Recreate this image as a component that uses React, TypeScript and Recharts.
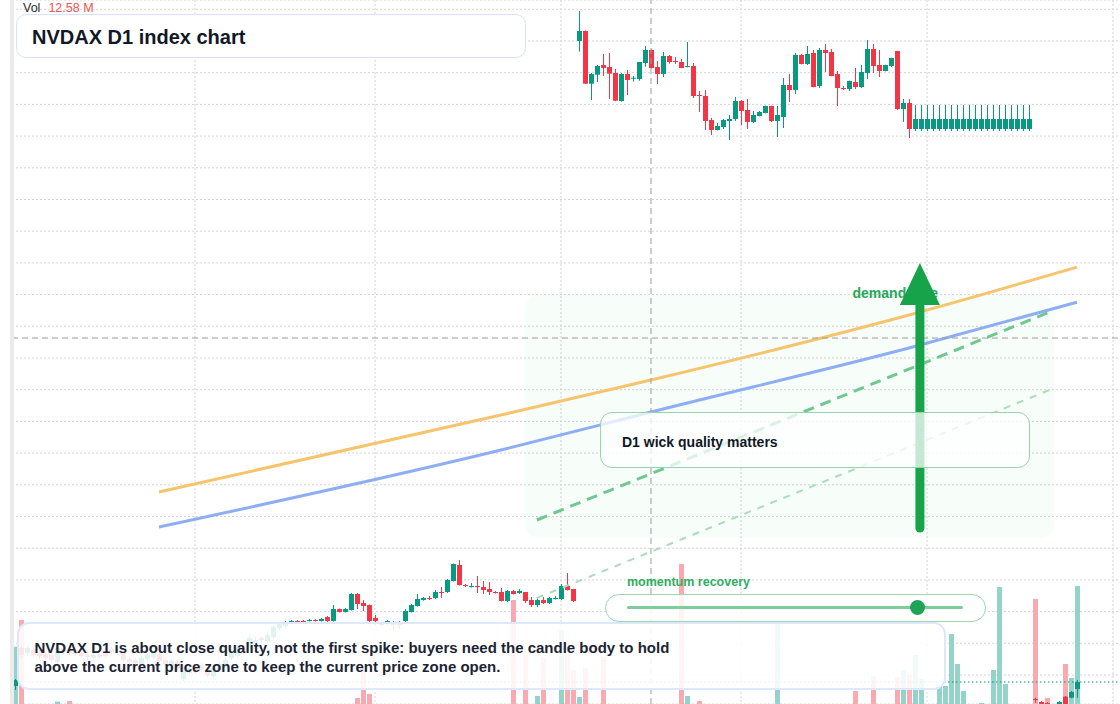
import {
  Bar,
  CartesianGrid,
  ComposedChart,
  Line,
  ReferenceArea,
  ReferenceDot,
  ReferenceLine,
  XAxis,
  YAxis,
} from "recharts";

const UP = "#089981";
const DOWN = "#f23645";
const UP_VOL = "#93d3c9";
const DOWN_VOL = "#f8aab0";
const FONT = '"Liberation Sans", Arial, Helvetica, sans-serif';

/** Daily slots from 2 Mar 2025; the last few stay empty as right padding. */
const dates = Array.from({ length: 185 }, (_, i) =>
  new Date(Date.UTC(2025, 2, 2 + i)).toISOString().slice(0, 10),
);

const monthTicks = ["2025-04-01", "2025-05-01", "2025-06-01", "2025-07-01", "2025-08-01", "2025-09-01"];
const priceTicks = [
  100, 110, 120, 130, 140, 150, 160, 170, 180, 190, 200,
  210, 220, 230, 240, 250, 260, 270, 280, 290, 300, 310,
];

const opens = [
  96.52, 108.51, 106.93, 107.88, 107.24, 106.61, 106.3, 104.09, 108.19, 107.88,
  107.88, 106.93, 106.3, 105.35, 106.3, 106.93, 108.19, 106.93, 106.93, 105.04,
  104.72, 103.46, 105.04, 105.67, 106.61, 104.72, 102.83, 104.09, 98.73, 100.62,
  102.51, 103.14, 101.56, 99.67, 101.56, 103.14, 105.35, 105.98, 108.51, 109.45,
  109.14, 111.66, 110.71, 111.98, 114.82, 115.45, 116.71, 117.02, 117.02, 117.02,
  117.34, 117.02, 118.29, 117.02, 120.81, 119.87, 120.5, 125.54, 122.7, 122.07,
  117.97, 115.76, 116.08, 116.08, 116.08, 117.02, 119.87, 121.76, 123.65, 124.28,
  124.28, 126.17, 126.17, 129.64, 134.69, 128.38, 127.75, 128.07, 127.75, 127.12,
  126.17, 126.17, 123.33, 126.49, 125.86, 126.17, 123.65, 122.07, 123.65, 122.7,
  123.97, 123.97, 128.07, 127.12, 300.0, 303.15, 286.53, 289.37, 292.43, 291.79,
  289.9, 281.07, 289.59, 288.1, 288.01, 293.06, 297.16, 291.79, 289.59, 295.26,
  293.69, 293.37, 291.79, 292.11, 282.96, 282.65, 275.07, 271.92, 272.87, 274.76,
  275.39, 281.07, 278.23, 274.44, 276.34, 277.28, 279.49, 274.76, 276.02, 286.12,
  284.54, 295.58, 292.74, 296.21, 285.8, 297.16, 296.53, 289.59, 285.17, 284.85,
  287.06, 285.48, 289.9, 297.47, 292.43, 290.53, 292.11, 296.84, 278.54, 280.44,
  272.24, 272.24, 272.24, 272.24, 272.24, 272.24, 272.24, 272.24, 272.24, 272.24,
  272.24, 272.24, 272.24, 272.24, 272.24, 272.24, 272.24, 272.24, 272.24, 272.24,
  92.42, 91.47, 91.16, 89.58, 90.52, 93.15, 92.83, 95.57,
];

const highs = [
  98.73, 109.45, 109.14, 108.51, 107.88, 107.24, 106.93, 109.14, 108.82, 108.51,
  108.51, 107.56, 107.24, 106.93, 106.61, 108.51, 109.14, 108.51, 107.56, 105.67,
  105.35, 105.98, 106.93, 107.56, 107.24, 105.35, 105.04, 104.72, 103.14, 102.83,
  103.14, 103.77, 102.19, 102.83, 104.09, 105.67, 107.88, 109.14, 109.45, 112.29,
  111.98, 112.29, 113.24, 115.76, 116.71, 117.02, 117.34, 117.34, 117.34, 117.66,
  117.66, 117.97, 118.6, 122.07, 120.97, 121.13, 125.86, 125.86, 123.65, 122.23,
  118.92, 116.71, 117.34, 117.02, 117.02, 120.81, 122.39, 125.54, 124.6, 124.91,
  126.8, 127.75, 130.28, 135.16, 136.27, 128.7, 129.01, 131.22, 129.64, 129.33,
  126.49, 127.44, 126.8, 126.8, 127.12, 126.2, 124.6, 124.6, 124.6, 124.6,
  124.91, 128.7, 132.17, 127.2, 309.46, 303.31, 289.9, 292.43, 295.9, 296.21,
  291.16, 289.9, 290.85, 288.95, 293.4, 298.42, 297.38, 293.69, 296.53, 295.58,
  294.95, 294.32, 299.68, 293.06, 284.22, 284.54, 275.71, 274.13, 275.39, 276.65,
  282.33, 281.38, 281.7, 277.91, 277.91, 279.6, 279.6, 279.49, 288.32, 289.59,
  296.21, 295.9, 298.42, 297.16, 297.79, 299.05, 297.47, 290.53, 285.8, 287.5,
  291.48, 292.43, 300.31, 299.05, 297.16, 292.5, 294.7, 296.9, 281.7, 281.7,
  279.81, 279.81, 279.81, 279.81, 279.81, 279.81, 279.81, 279.81, 279.81, 279.81,
  279.81, 279.81, 279.81, 279.81, 279.81, 279.81, 279.81, 279.81, 279.81, 279.81,
  92.83, 91.79, 91.47, 90.21, 91.79, 93.37, 94.94, 98.41,
];

const lows = [
  95.26, 105.35, 106.3, 105.67, 105.04, 104.72, 104.09, 103.46, 106.3, 106.3,
  105.98, 105.35, 104.72, 104.72, 105.04, 105.35, 106.3, 106.3, 104.09, 103.46,
  103.14, 102.83, 104.4, 105.04, 103.77, 102.51, 102.19, 101.56, 98.09, 99.99,
  100.3, 100.93, 99.36, 99.04, 100.93, 102.51, 104.72, 105.35, 106.3, 108.82,
  108.51, 110.4, 110.08, 111.35, 114.19, 114.82, 116.55, 116.39, 116.39, 116.87,
  116.87, 116.87, 116.08, 116.87, 119.71, 119.71, 120.34, 120.81, 120.18, 116.71,
  115.76, 115.45, 115.92, 114.19, 114.5, 116.71, 119.71, 121.6, 123.49, 123.65,
  123.97, 124.28, 125.86, 129.49, 128.22, 127.75, 127.59, 125.86, 125.54, 125.23,
  125.7, 123.18, 123.02, 125.39, 125.54, 122.7, 121.44, 121.44, 122.39, 122.39,
  123.81, 123.65, 126.65, 123.02, 296.62, 286.43, 281.38, 287.06, 288.95, 281.7,
  281.0, 280.85, 282.96, 287.16, 287.47, 291.89, 291.4, 286.43, 288.64, 292.84,
  292.74, 291.4, 291.7, 282.02, 277.6, 271.92, 270.34, 271.8, 272.24, 268.77,
  274.76, 273.5, 272.24, 274.13, 276.2, 277.2, 274.44, 269.71, 272.55, 280.75,
  283.28, 292.6, 292.43, 285.4, 285.17, 290.22, 288.9, 279.49, 284.54, 284.22,
  284.85, 285.17, 288.01, 289.9, 288.64, 290.4, 291.79, 278.23, 274.44, 269.4,
  271.6, 271.6, 271.6, 271.6, 271.6, 271.6, 271.6, 271.6, 271.6, 271.6,
  271.6, 271.6, 271.6, 271.6, 271.6, 271.6, 271.6, 271.6, 271.6, 271.6,
  91.25, 90.21, 90.68, 87.69, 90.21, 89.58, 92.64, 92.83,
];

const closes = [
  98.41, 106.3, 108.51, 106.3, 105.98, 105.35, 104.72, 108.51, 107.24, 106.93,
  106.61, 105.98, 105.67, 106.3, 105.67, 105.98, 107.24, 107.88, 104.72, 104.09,
  103.77, 105.35, 106.3, 106.93, 104.4, 103.46, 104.4, 102.19, 102.51, 102.19,
  100.93, 101.56, 99.99, 102.19, 103.46, 104.72, 106.93, 108.51, 107.24, 111.66,
  111.03, 111.03, 112.61, 115.13, 116.08, 116.39, 117.02, 116.71, 116.71, 117.34,
  117.02, 117.66, 117.02, 120.81, 119.87, 120.81, 125.54, 122.39, 121.76, 117.02,
  117.02, 116.39, 117.02, 115.76, 115.76, 120.18, 122.07, 123.97, 124.28, 123.97,
  126.17, 125.86, 129.96, 135.01, 128.38, 128.07, 128.07, 127.75, 126.8, 126.17,
  125.86, 123.33, 126.49, 125.54, 126.49, 123.33, 122.07, 123.65, 122.7, 124.28,
  124.28, 128.07, 126.8, 123.33, 303.15, 286.53, 289.59, 292.11, 291.48, 289.68,
  281.16, 289.59, 287.69, 288.42, 293.37, 297.16, 291.48, 289.59, 295.26, 293.37,
  293.37, 291.48, 292.11, 282.65, 282.65, 274.76, 271.92, 273.18, 275.07, 275.39,
  281.07, 277.91, 274.44, 276.65, 277.6, 279.49, 274.76, 276.65, 286.12, 284.54,
  295.58, 292.74, 295.9, 285.48, 297.16, 296.21, 288.95, 285.17, 284.85, 287.38,
  285.48, 290.22, 297.47, 292.11, 290.53, 292.43, 294.63, 278.54, 280.44, 272.24,
  275.39, 275.39, 275.39, 275.39, 275.39, 275.39, 275.39, 275.39, 275.39, 275.39,
  275.39, 275.39, 275.39, 275.39, 275.39, 275.39, 275.39, 275.39, 275.39, 275.39,
  92.1, 90.52, 90.9, 88.32, 91.47, 90.21, 94.63, 97.78,
];

/** Volume in millions. */
const volumes = [
  6.1, 8.95, 0, 0, 0, 0, 0, 0.25, 0, 0.32,
  0, 0, 0, 0, 0, 0, 0, 0, 0, 0,
  0, 0, 0, 0, 0, 0, 0, 0, 0, 0,
  0, 0, 0, 0, 0, 0, 0, 0, 0, 0,
  0, 0, 0, 0, 0, 0, 0, 0, 0, 0,
  0, 0, 0, 0, 0, 0, 0, 0.64, 3.62, 1.07,
  0, 0, 0, 0, 0, 0, 0, 0, 0, 0,
  0, 0, 0, 0, 0, 0, 0, 0, 0, 0,
  0, 0, 0, 11.08, 0, 5.22, 0, 0.85, 4.9, 0,
  0, 7.88, 5.22, 3.62, 0.75, 3.84, 0, 0, 5.0, 0,
  0, 0, 0, 0, 0, 0, 0, 0, 0, 0,
  0, 14.91, 0.85, 0, 0.32, 0, 0, 0, 0, 0,
  0, 0, 0, 0, 0, 0, 0, 8.63, 0, 0,
  0, 0, 0, 0, 0, 0, 0, 0, 0, 0,
  1.38, 0, 0, 2.98, 0, 0, 0, 2.88, 3.62, 3.09,
  5.22, 2.66, 0, 0, 1.81, 1.92, 7.46, 4.26, 1.38, 0,
  0, 0.11, 0, 3.62, 12.46, 2.13, 0, 0, 0, 0,
  11.19, 0, 0.64, 0, 0, 4.26, 2.77, 12.58,
];

// two smooth guide curves, given at a few anchor days
const guideDays = [24, 81, 106, 149, 177];
const orangeGuide = [157.72, 182.01, 193.05, 213.56, 228.67];
const blueGuide = [146.68, 170.97, 182.96, 203.15, 217.6];

// annotation anchors, in (day index, price)
const crosshairPrice = 206.3;
const zoneBox = { x1: 85.1, x2: 172.8, y1: 143.2, y2: 219.87 };
const channelUpper = [{ x: 87, y: 148.89 }, { x: 172, y: 214.5 }];
const channelLower = [{ x: 87, y: 124.28 }, { x: 172, y: 189.9 }];
const arrowShaft = [{ x: 150.5, y: 146.36 }, { x: 150.5, y: 216.39 }];
const arrowTip = { x: 150.5, y: 216.71 };
const demandLabel = { x: 139.33, y: 218.92 };

const rows = dates.map((date, i) => {
  const g = guideDays.indexOf(i);
  return {
    date,
    open: opens[i],
    high: highs[i],
    low: lows[i],
    close: closes[i],
    range: i < opens.length ? [lows[i], highs[i]] : null,
    volume: i < volumes.length ? volumes[i] : null,
    orange: g >= 0 ? orangeGuide[g] : null,
    blue: g >= 0 ? blueGuide[g] : null,
  };
});

function Candle(props: any) {
  const { x, y, width, height, payload } = props;
  if (!payload || payload.open == null || !Number.isFinite(y)) return null;
  const { open, close, high, low } = payload;
  const top = Math.min(y, y + height);
  const span = Math.abs(height);
  const toY = (v: number) => top + ((high - v) / (high - low)) * span;
  const color = close >= open ? UP : DOWN;
  const left = Math.round(x);
  const w = Math.max(1, Math.round(width));
  const mid = left + Math.floor(w / 2) + 0.5;
  const bodyTop = toY(Math.max(open, close));
  const bodyH = Math.max(1, toY(Math.min(open, close)) - bodyTop);
  return (
    <g>
      <line x1={mid} x2={mid} y1={top} y2={top + span} stroke={color} strokeWidth={1} />
      <rect x={left} y={bodyTop} width={w} height={bodyH} fill={color} />
    </g>
  );
}

function VolumeBar(props: any) {
  const { x, y, width, height, payload } = props;
  if (!payload || !payload.volume || !Number.isFinite(y)) return null;
  const fill = payload.close >= payload.open ? UP_VOL : DOWN_VOL;
  return <rect x={Math.round(x)} y={y} width={Math.round(width)} height={height} fill={fill} />;
}

function NvdaxChart() {
  const lastVol = volumes[volumes.length - 1];
  return (
    <div
      style={{
        position: "relative",
        width: 1120,
        height: 704,
        overflow: "hidden",
        background: "#fff",
        fontFamily: FONT,
      }}
    >
      <style>{"body{margin:0}"}</style>
      <ComposedChart width={1122} height={704} data={rows} margin={{ top: 0, right: 0, bottom: 0, left: 0 }}>
        <CartesianGrid stroke="#d4d4d4" strokeDasharray="2 2" />
        <XAxis dataKey="date" ticks={monthTicks} hide />
        <XAxis xAxisId="v" dataKey="date" hide />
        <XAxis xAxisId="n" type="number" domain={[-0.5, 184.5]} allowDataOverflow hide />
        <YAxis
          domain={[90.85, 312.93]}
          ticks={priceTicks}
          interval={0}
          allowDataOverflow
          width={12}
          tick={() => <g />}
          tickLine={false}
          axisLine={{ stroke: "#ebebeb", strokeWidth: 4 }}
        />
        <YAxis yAxisId="vol" domain={[0, 75]} hide />

        <ReferenceArea
          xAxisId="n"
          x1={zoneBox.x1}
          x2={zoneBox.x2}
          y1={zoneBox.y1}
          y2={zoneBox.y2}
          shape={(p: any) => (
            <rect x={p.x} y={p.y} width={p.width} height={p.height} rx={14} fill="#22c55e" fillOpacity={0.035} />
          )}
        />

        <Line
          dataKey="orange"
          type="monotone"
          stroke="#f6c46c"
          strokeWidth={3}
          dot={false}
          activeDot={false}
          connectNulls
          isAnimationActive={false}
        />
        <Line
          dataKey="blue"
          type="monotone"
          stroke="#8daef3"
          strokeWidth={3}
          dot={false}
          activeDot={false}
          connectNulls
          isAnimationActive={false}
        />

        <ReferenceLine xAxisId="n" segment={channelLower} stroke="#a9ddb9" strokeWidth={2} strokeDasharray="7 7" />
        <ReferenceLine xAxisId="n" segment={channelUpper} stroke="#70c890" strokeWidth={3} strokeDasharray="11 7" />

        <ReferenceLine x={dates[106]} stroke="#9b9b9b" strokeDasharray="6 4" />
        <ReferenceLine y={crosshairPrice} stroke="#9b9b9b" strokeDasharray="6 4" />

        <Bar
          dataKey="volume"
          xAxisId="v"
          yAxisId="vol"
          barSize={5}
          shape={(p: any) => <VolumeBar {...p} />}
          isAnimationActive={false}
        />
        <Bar dataKey="range" barSize={5} shape={(p: any) => <Candle {...p} />} isAnimationActive={false} />

        <ReferenceLine y={closes[closes.length - 1]} stroke={UP} strokeDasharray="1.5 2.5" />

        <ReferenceDot
          xAxisId="n"
          x={demandLabel.x}
          y={demandLabel.y}
          ifOverflow="visible"
          shape={(p: any) => (
            <text x={p.cx} y={p.cy} fill="#27a85a" fontSize={14} fontWeight={700} fontFamily={FONT}>
              demand side
            </text>
          )}
        />
        <ReferenceLine
          xAxisId="n"
          segment={arrowShaft}
          stroke="#16a34a"
          strokeWidth={9}
          strokeLinecap="round"
        />
        <ReferenceDot
          xAxisId="n"
          x={arrowTip.x}
          y={arrowTip.y}
          ifOverflow="visible"
          shape={(p: any) => (
            <path d={`M${p.cx - 20},${p.cy} L${p.cx + 20},${p.cy} L${p.cx},${p.cy - 42} Z`} fill="#16a34a" />
          )}
        />
        <ReferenceDot
          xAxisId="n"
          x={184.5}
          y={crosshairPrice}
          ifOverflow="visible"
          shape={(p: any) => <rect x={p.cx - 4} y={p.cy - 9} width={12} height={19} fill="#131722" />}
        />
      </ComposedChart>

      <div
        style={{
          position: "absolute",
          left: 23,
          top: 1,
          fontSize: 12.5,
          lineHeight: "15px",
          whiteSpace: "nowrap",
        }}
      >
        <span style={{ color: "#2b2b2b" }}>Vol</span>
        <span style={{ color: "#ef5350", marginLeft: 8 }}>{lastVol.toFixed(2)} M</span>
      </div>

      <div
        style={{
          position: "absolute",
          left: 16,
          top: 14,
          width: 510,
          height: 44,
          boxSizing: "border-box",
          border: "1.5px solid #d6e4fb",
          borderRadius: 10,
          background: "#fff",
          display: "flex",
          alignItems: "center",
          padding: "3px 15px 0",
          fontSize: 20,
          fontWeight: 700,
          color: "#111827",
        }}
      >
        NVDAX D1 index chart
      </div>

      <div
        style={{
          position: "absolute",
          left: 600,
          top: 412,
          width: 430,
          height: 56,
          boxSizing: "border-box",
          border: "1.5px solid #93d6a9",
          borderRadius: 12,
          background: "rgba(255,255,255,0.75)",
          display: "flex",
          alignItems: "center",
          padding: "4px 21px 0",
          fontSize: 14,
          fontWeight: 700,
          color: "#111827",
        }}
      >
        D1 wick quality matters
      </div>

      <div
        style={{
          position: "absolute",
          left: 627,
          top: 575,
          fontSize: 12.5,
          lineHeight: "15px",
          fontWeight: 700,
          color: "#2fae5f",
          whiteSpace: "nowrap",
        }}
      >
        momentum recovery
      </div>
      <div
        style={{
          position: "absolute",
          left: 605,
          top: 594,
          width: 381,
          height: 28,
          boxSizing: "border-box",
          border: "1.5px solid #9bd8b0",
          borderRadius: 14,
          background: "rgba(255,255,255,0.85)",
        }}
      >
        <div
          style={{
            position: "absolute",
            left: 20.5,
            top: 11,
            width: 336,
            height: 3,
            borderRadius: 2,
            background: "#7fcd98",
          }}
        />
        <div
          style={{
            position: "absolute",
            left: 304,
            top: 5,
            width: 15,
            height: 15,
            borderRadius: "50%",
            background: "#1fa356",
          }}
        />
      </div>

      <div
        style={{
          position: "absolute",
          left: 17,
          top: 622,
          width: 929,
          height: 68,
          boxSizing: "border-box",
          border: "2px solid #dde8fb",
          borderRadius: 12,
          background: "rgba(255,255,255,0.88)",
          padding: "14px 15.5px",
          fontSize: 15,
          lineHeight: "19px",
          fontWeight: 700,
          color: "#1c2433",
          whiteSpace: "nowrap",
        }}
      >
        NVDAX D1 is about close quality, not the first spike: buyers need the candle body to hold
        <br />
        above the current price zone to keep the current price zone open.
      </div>
    </div>
  );
}

export default function App() {
  return <NvdaxChart />;
}
